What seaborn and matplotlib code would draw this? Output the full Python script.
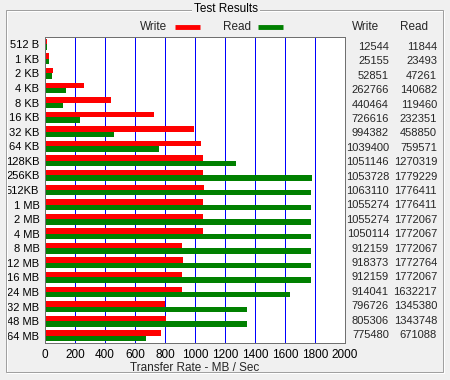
import matplotlib
matplotlib.use("Agg")
import matplotlib.pyplot as plt
import seaborn as sns
import pandas as pd
from matplotlib.patches import Rectangle

sizes = ["512 B", "1 KB", "2 KB", "4 KB", "8 KB", "16 KB", "32 KB", "64 KB", "128KB",
         "256KB", "512KB", "1 MB", "2 MB", "4 MB", "8 MB", "12 MB", "16 MB", "24 MB",
         "32 MB", "48 MB", "64 MB"]
write_kb = [12544, 25155, 52851, 262766, 440464, 726616, 994382, 1039400, 1051146,
            1053728, 1063110, 1055274, 1055274, 1050114, 912159, 918373, 912159, 914041,
            796726, 805306, 775480]
read_kb = [11844, 23493, 47261, 140682, 119460, 232351, 458850, 759571, 1270319,
           1779229, 1776411, 1776411, 1772067, 1772067, 1772067, 1772764, 1772067, 1632217,
           1345380, 1343748, 671088]
x_ticks = [0, 200, 400, 600, 800, 1000, 1200, 1400, 1600, 1800, 2000]

sns.set_theme(style="white")
plt.rcParams["font.family"] = ["Liberation Sans", "DejaVu Sans"]
BG = "#f0f0f0"
FS = 8
FL = 8.5
PX = 0.72

df = pd.DataFrame({
    "size": sizes * 2,
    "rate": [w / 1000 for w in write_kb] + [r / 1000 for r in read_kb],
    "kind": ["Write"] * len(sizes) + ["Read"] * len(sizes),
})

W, H = 450, 380
fig = plt.figure(figsize=(W / 100, H / 100), dpi=100, facecolor=BG)

# group box
fig.patches.append(Rectangle((7 / W, 1 - 373 / H), 437 / W, 362 / H, transform=fig.transFigure,
                             fill=False, edgecolor="white", lw=PX))
fig.patches.append(Rectangle((6 / W, 1 - 372 / H), 437 / W, 362 / H, transform=fig.transFigure,
                             fill=False, edgecolor="#a0a0a0", lw=PX))
fig.text(226 / W, 1 - 9 / H, "Test Results", ha="center", va="center", fontsize=FL,
         color="black", bbox=dict(facecolor=BG, edgecolor="none", pad=1.5))

ax = fig.add_axes([45 / W, 1 - 343 / H, 300 / W, 306 / H])
ax.set_facecolor("white")
sns.barplot(data=df, y="size", x="rate", hue="kind", hue_order=["Write", "Read"],
            palette={"Write": "#ff0000", "Read": "#008000"}, order=sizes,
            orient="h", width=0.74, gap=0, errorbar=None, saturation=1, legend=False, ax=ax)
for b in ax.patches:
    b.set_edgecolor("none")
ax.set_xlim(0, 2000)
ax.set_ylim(len(sizes) - 0.5, -0.5)
ax.set_xticks(x_ticks)
ax.set_xticklabels([str(t) for t in x_ticks], fontsize=FL)
ax.set_yticklabels(sizes, fontsize=FS)
ax.tick_params(axis="both", length=0, pad=4, colors="black")
for t in x_ticks[1:-1]:
    ax.axvline(t, color="#0000ff", lw=PX, zorder=0)
ax.set_axisbelow(True)
ax.set_xlabel("Transfer Rate - MB / Sec", fontsize=FL, labelpad=1)
ax.set_ylabel("")
for s in ax.spines.values():
    s.set_color("#707070")
    s.set_linewidth(PX)

# legend
fig.text(167 / W, 1 - 27 / H, "Write", ha="right", va="center", fontsize=FL)
fig.lines.append(plt.Line2D([175 / W, 200 / W], [1 - 27 / H] * 2, transform=fig.transFigure,
                            color="#ff0000", lw=3.5, solid_capstyle="butt"))
fig.text(251 / W, 1 - 27 / H, "Read", ha="right", va="center", fontsize=FL)
fig.lines.append(plt.Line2D([258 / W, 283 / W], [1 - 27 / H] * 2, transform=fig.transFigure,
                            color="#008000", lw=3.5, solid_capstyle="butt"))

# table
fig.text(379 / W, 1 - 27 / H, "Write", ha="right", va="center", fontsize=FL)
fig.text(428 / W, 1 - 27 / H, "Read", ha="right", va="center", fontsize=FL)
for i in range(len(sizes)):
    y = 1 - (47 + i * 14.4) / H
    fig.text(389 / W, y, str(write_kb[i]), ha="right", va="center", fontsize=FS)
    fig.text(437 / W, y, str(read_kb[i]), ha="right", va="center", fontsize=FS)

fig.savefig("out.png", dpi=100, facecolor=BG)
